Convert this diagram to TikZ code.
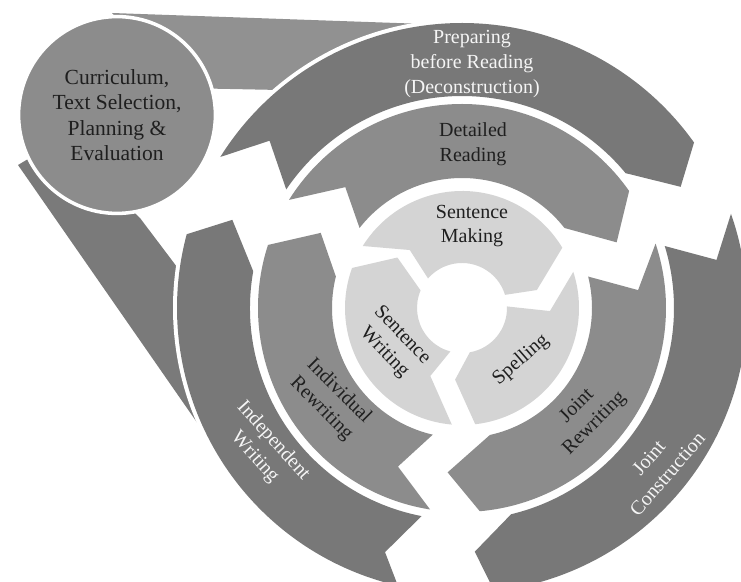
\documentclass[tikz,border=0pt]{standalone}
\usepackage{fontspec}
\setmainfont{Liberation Serif}
\begin{document}
\begin{tikzpicture}[x=1pt, y=1pt, scale=0.85, every node/.style={font=\fontsize{17}{21}\selectfont, align=center, inner sep=0pt},
	outerseg/.style={fill=black!53}, midseg/.style={fill=black!45}, innerseg/.style={fill=black!17},
	lighttext/.style={text=black!4}, darktext/.style={text=black!88}]
	\useasboundingbox (0,0) rectangle (741,581);
	% funnel from the circle to the outer ring
	\fill[black!43] (112,568) -- (425,557) -- (400,461) -- (280,491) -- (180,493) -- cycle;
	\fill[black!52] (18,416) -- (205,147) -- (260,201) -- (230,301) -- (177,314) -- (140,363) -- (60,441) -- cycle;
	\fill[white] (462,273) circle[radius=289pt];
	\begin{scope}[shift={(462,273)}]
		% outer ring
		\fill[outerseg] (148:285) arc[start angle=148, end angle=35.5, radius=285pt] -- (29:250) -- (39.5:212) arc[start angle=39.5, end angle=146, radius=212pt] -- (139:255) -- cycle;
		\fill[outerseg] (19.3:285) arc[start angle=19.3, end angle=-83.5, radius=285pt] -- (-87:244) -- (-76.6:212) arc[start angle=-76.6, end angle=17, radius=212pt] -- (10.7:259) -- cycle;
		\fill[outerseg] (257:285) arc[start angle=257, end angle=165, radius=285pt] -- (159:246) -- (170:212) arc[start angle=170, end angle=259, radius=212pt] -- (252.5:256) -- cycle;
		% middle ring
		\fill[midseg] (148:204) arc[start angle=148, end angle=35, radius=204pt] -- (23:168) -- (38:130) arc[start angle=38, end angle=142, radius=130pt] -- (134:168) -- cycle;
		\fill[midseg] (18.4:204) arc[start angle=18.4, end angle=-85, radius=204pt] -- (-95:165) -- (-77.6:130) arc[start angle=-77.6, end angle=14, radius=130pt] -- (5.8:177) -- cycle;
		\fill[midseg] (261:204) arc[start angle=261, end angle=162, radius=204pt] -- (152:160) -- (166:130) arc[start angle=166, end angle=257, radius=130pt] -- (248:171) -- cycle;
		% inner ring
		\fill[innerseg] (148:117) arc[start angle=148, end angle=31, radius=117pt] -- (13.5:77) -- (17:45) arc[start angle=17, end angle=139, radius=45pt] -- (132:78) -- cycle;
		\fill[innerseg] (18:117) arc[start angle=18, end angle=-83.5, radius=117pt] -- (-95.5:72) -- (-80:45) arc[start angle=-80, end angle=2, radius=45pt] -- (-2:88) -- cycle;
		\fill[innerseg] (265:117) arc[start angle=265, end angle=160, radius=117pt] -- (142:82) -- (157:45) arc[start angle=157, end angle=255, radius=45pt] -- (245:75) -- cycle;
	\end{scope}
	\node[circle, minimum size=5.88cm, fill=black!45, draw=white, line width=3pt, darktext, font=\fontsize{18.3}{21.5}\selectfont] (plan) at (117,466) {Curriculum,\\Text Selection,\\Planning \&\\Evaluation};
	% labels of the ring pieces
	\node[lighttext] (prep) at (472,517) {Preparing\\before Reading\\(Deconstruction)};
	\node[darktext] (detread) at (473,437) {Detailed\\Reading};
	\node[darktext] (sentmake) at (472,355) {Sentence\\Making};
	\node[darktext, rotate=-46] (sentwrite) at (393,237) {Sentence\\Writing};
	\node[darktext, rotate=41] (spell) at (521,221) {Spelling};
	\node[darktext, rotate=45] (jointrew) at (586,166) {Joint\\Rewriting};
	\node[lighttext, rotate=49] (jointcons) at (658,115) {Joint\\Construction};
	\node[darktext, rotate=-45] (indrew) at (330,181) {Individual\\Rewriting};
	\node[lighttext, rotate=-48] (indwrite) at (264,132) {Independent\\Writing};
\end{tikzpicture}
\end{document}
